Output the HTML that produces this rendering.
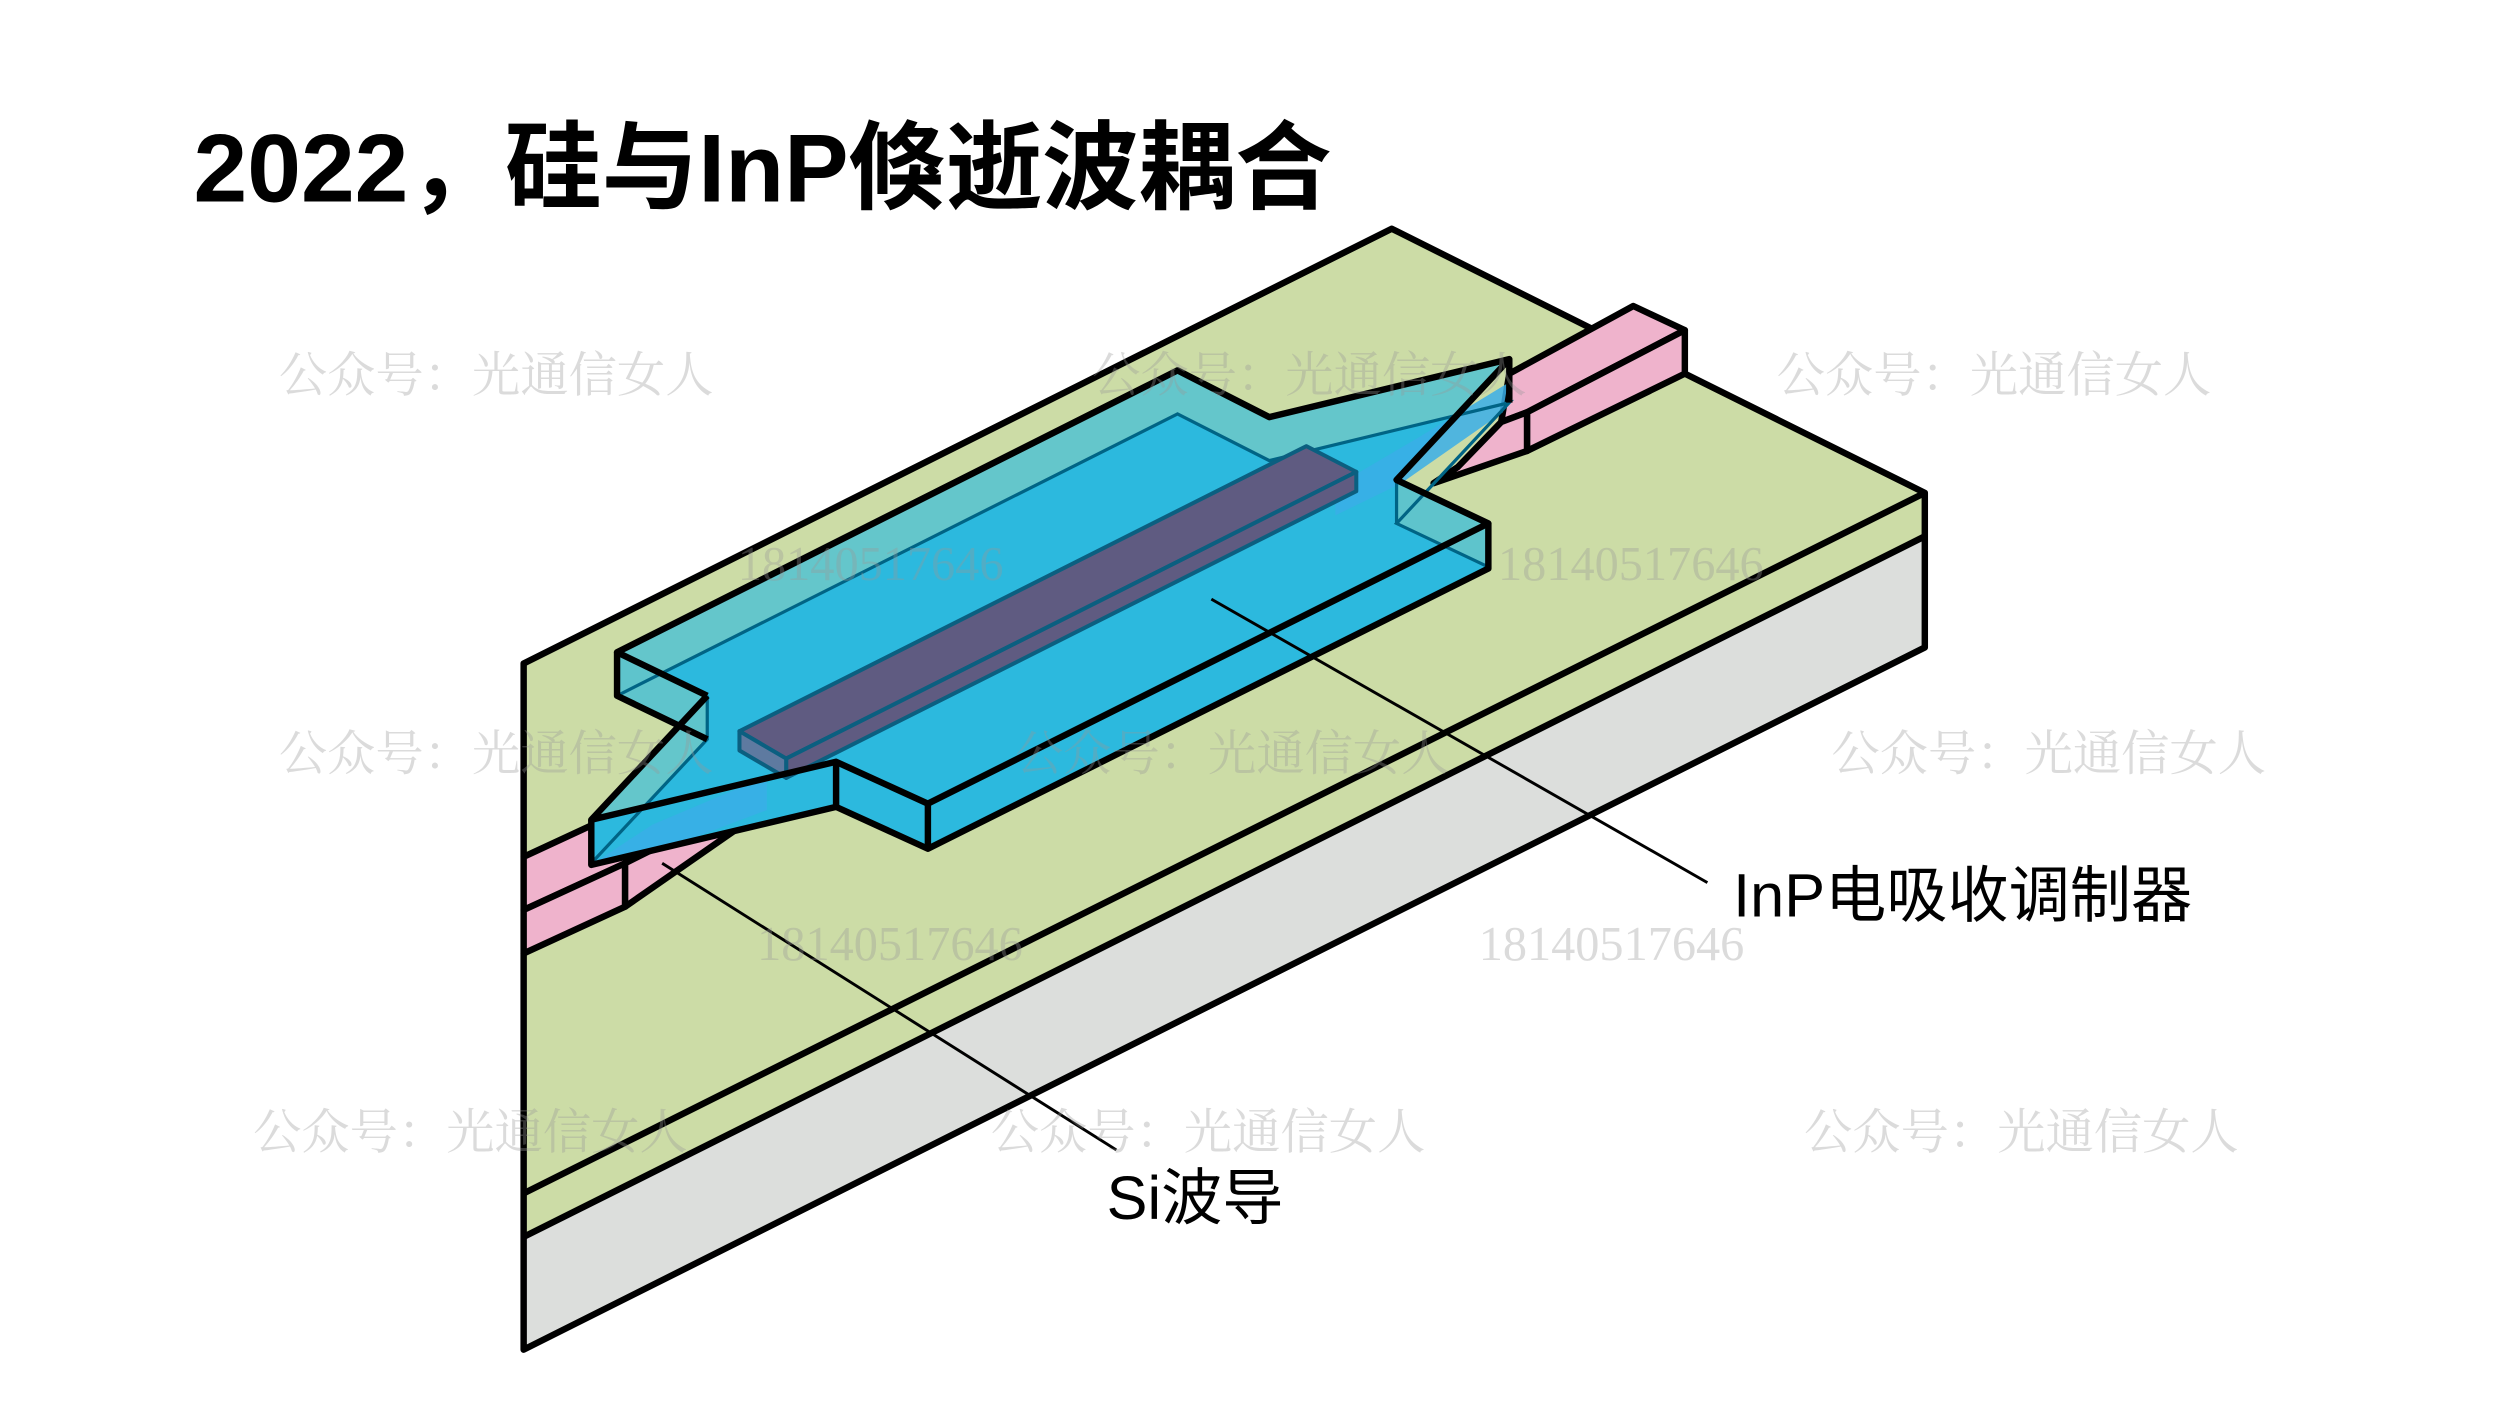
<!DOCTYPE html>
<html><head><meta charset="utf-8"><style>
html,body{margin:0;padding:0;background:#fff;}
svg{display:block;}
</style></head><body>
<svg width="2500" height="1406" viewBox="0 0 1552 873" xmlns="http://www.w3.org/2000/svg">
<defs>
<clipPath id="topclip"><polygon points="383,405 731,230 788,259 937,223 867,298 924,325 576,499 519,473 367,509 439,432"/></clipPath>
</defs>
<text x="120" y="125" font-family="'Liberation Sans','Noto Sans CJK SC',sans-serif" font-weight="700" font-size="60" fill="#000">2022，硅与InP倏逝波耦合</text>

<polygon points="325,412 864,142 1195,306 325,741" fill="#ccdca6"/>
<polygon points="325,741 1195,306 1195,333 325,768" fill="#ccdca6"/>
<polygon points="325,768 1195,333 1195,402 325,838" fill="#dcdedc"/>
<g stroke="#000" stroke-width="4" fill="none" stroke-linejoin="round">
<polyline points="325,532 325,412 864,142 990,205"/>
<polyline points="1046,232 1195,306 1195,402 325,838 325,592"/>
<line x1="325" y1="741" x2="1195" y2="306"/>
<line x1="325" y1="768" x2="1195" y2="333"/>
</g>

<g fill="#efb3cc" stroke="#000" stroke-width="4" stroke-linejoin="round">
<polygon points="1014,190 1046,205 948,256 932,262 937,232"/>
<polygon points="948,256 1046,205 1046,232 948,280"/>
<polygon points="932,262 948,256 948,280 890,300 905,290"/>
</g>
<g fill="#efb3cc" stroke="#000" stroke-width="4" stroke-linejoin="round">
<polygon points="325,532 366,513 404,528 388,536 325,565"/>
<polygon points="325,565 388,536 388,563 325,592"/>
<polygon points="388,536 404,528 457,515 388,563"/>
</g>

<polygon points="383,405 731,230 788,259 937,223 867,298 924,325 576,499 519,473 367,509 439,432" fill="#5ec4cc" fill-opacity="0.95"/>
<polygon clip-path="url(#topclip)" points="383,432 731,257 788,286 937,250 867,325 924,352 576,526 519,500 367,536 439,459" fill="#2cb9de"/>
<polygon points="383,405 439,432 439,459 383,432" fill="#5ec4cc"/>
<polygon points="367,509 519,473 519,500 367,536" fill="#2cb9de"/>
<polygon points="519,473 576,499 576,527 519,500" fill="#2cb9de"/>
<polygon points="576,499 924,325 924,353 576,527" fill="#2cb9de"/>
<polygon points="867,298 924,325 924,353 867,325" fill="#5ec4cc"/>
<polygon points="370,535 405,512 476,482 476,503 410,528" fill="#3aaee8" fill-opacity="0.85"/>
<polygon points="829,302 829,320 870,300 933,256 936,238 880,272" fill="#3aaee8" fill-opacity="0.85"/>
<g stroke="#006485" stroke-width="2" fill="none">
<polyline points="383,432 731,257 788,286 937,250 867,325 924,352"/>
<polyline points="439,432 439,459 367,536"/>
<line x1="867" y1="298" x2="867" y2="325"/>
</g>

<g fill="#5f5b81" stroke="#0b5f80" stroke-width="2.5" stroke-linejoin="round">
<polygon points="459,454 811,277 842,293 488,471"/>
<polygon points="488,471 842,293 842,305 488,483"/>
<polygon points="459,454 488,471 488,483 459,466" fill="#5e7aa0"/>
</g>

<g stroke="#000" stroke-width="4" fill="none" stroke-linejoin="round">
<polyline points="439,432 383,405 731,230 788,259 937,223 867,298 924,325 576,499 519,473 367,509 439,432"/>
<polyline points="383,405 383,432 439,459"/>
<polyline points="367,509 367,537 519,501 519,473"/>
<polyline points="519,501 576,527 924,353 924,325"/>
<line x1="576" y1="499" x2="576" y2="527"/>
<line x1="937" y1="223" x2="937" y2="250"/>
</g>

<g stroke="#000" stroke-width="1.8">
<line x1="752" y1="372" x2="1060" y2="548"/>
<line x1="411" y1="536" x2="693" y2="714"/>
</g>
<g font-family="'Liberation Sans','Noto Sans CJK SC',sans-serif" font-size="38" fill="#000">
<text x="1076" y="569">InP电吸收调制器</text>
<text x="687" y="757">Si波导</text>
</g>

<g font-family="'Liberation Serif','Noto Serif CJK SC',serif" font-size="30" fill="#999" fill-opacity="0.35">
<text x="173" y="243">公众号：光通信女人</text>
<text x="678" y="243">公众号：光通信女人</text>
<text x="1103" y="243">公众号：光通信女人</text>
<text x="173" y="478">公众号：光通信女人</text>
<text x="630" y="478">公众号：光通信女人</text>
<text x="1137" y="478">公众号：光通信女人</text>
<text x="157" y="713">公众号：光通信女人</text>
<text x="615" y="713">公众号：光通信女人</text>
<text x="1120" y="713">公众号：光通信女人</text>
<text x="458" y="360">18140517646</text>
<text x="930" y="360">18140517646</text>
<text x="470" y="596">18140517646</text>
<text x="918" y="596">18140517646</text>
</g>
</svg>
</body></html>
